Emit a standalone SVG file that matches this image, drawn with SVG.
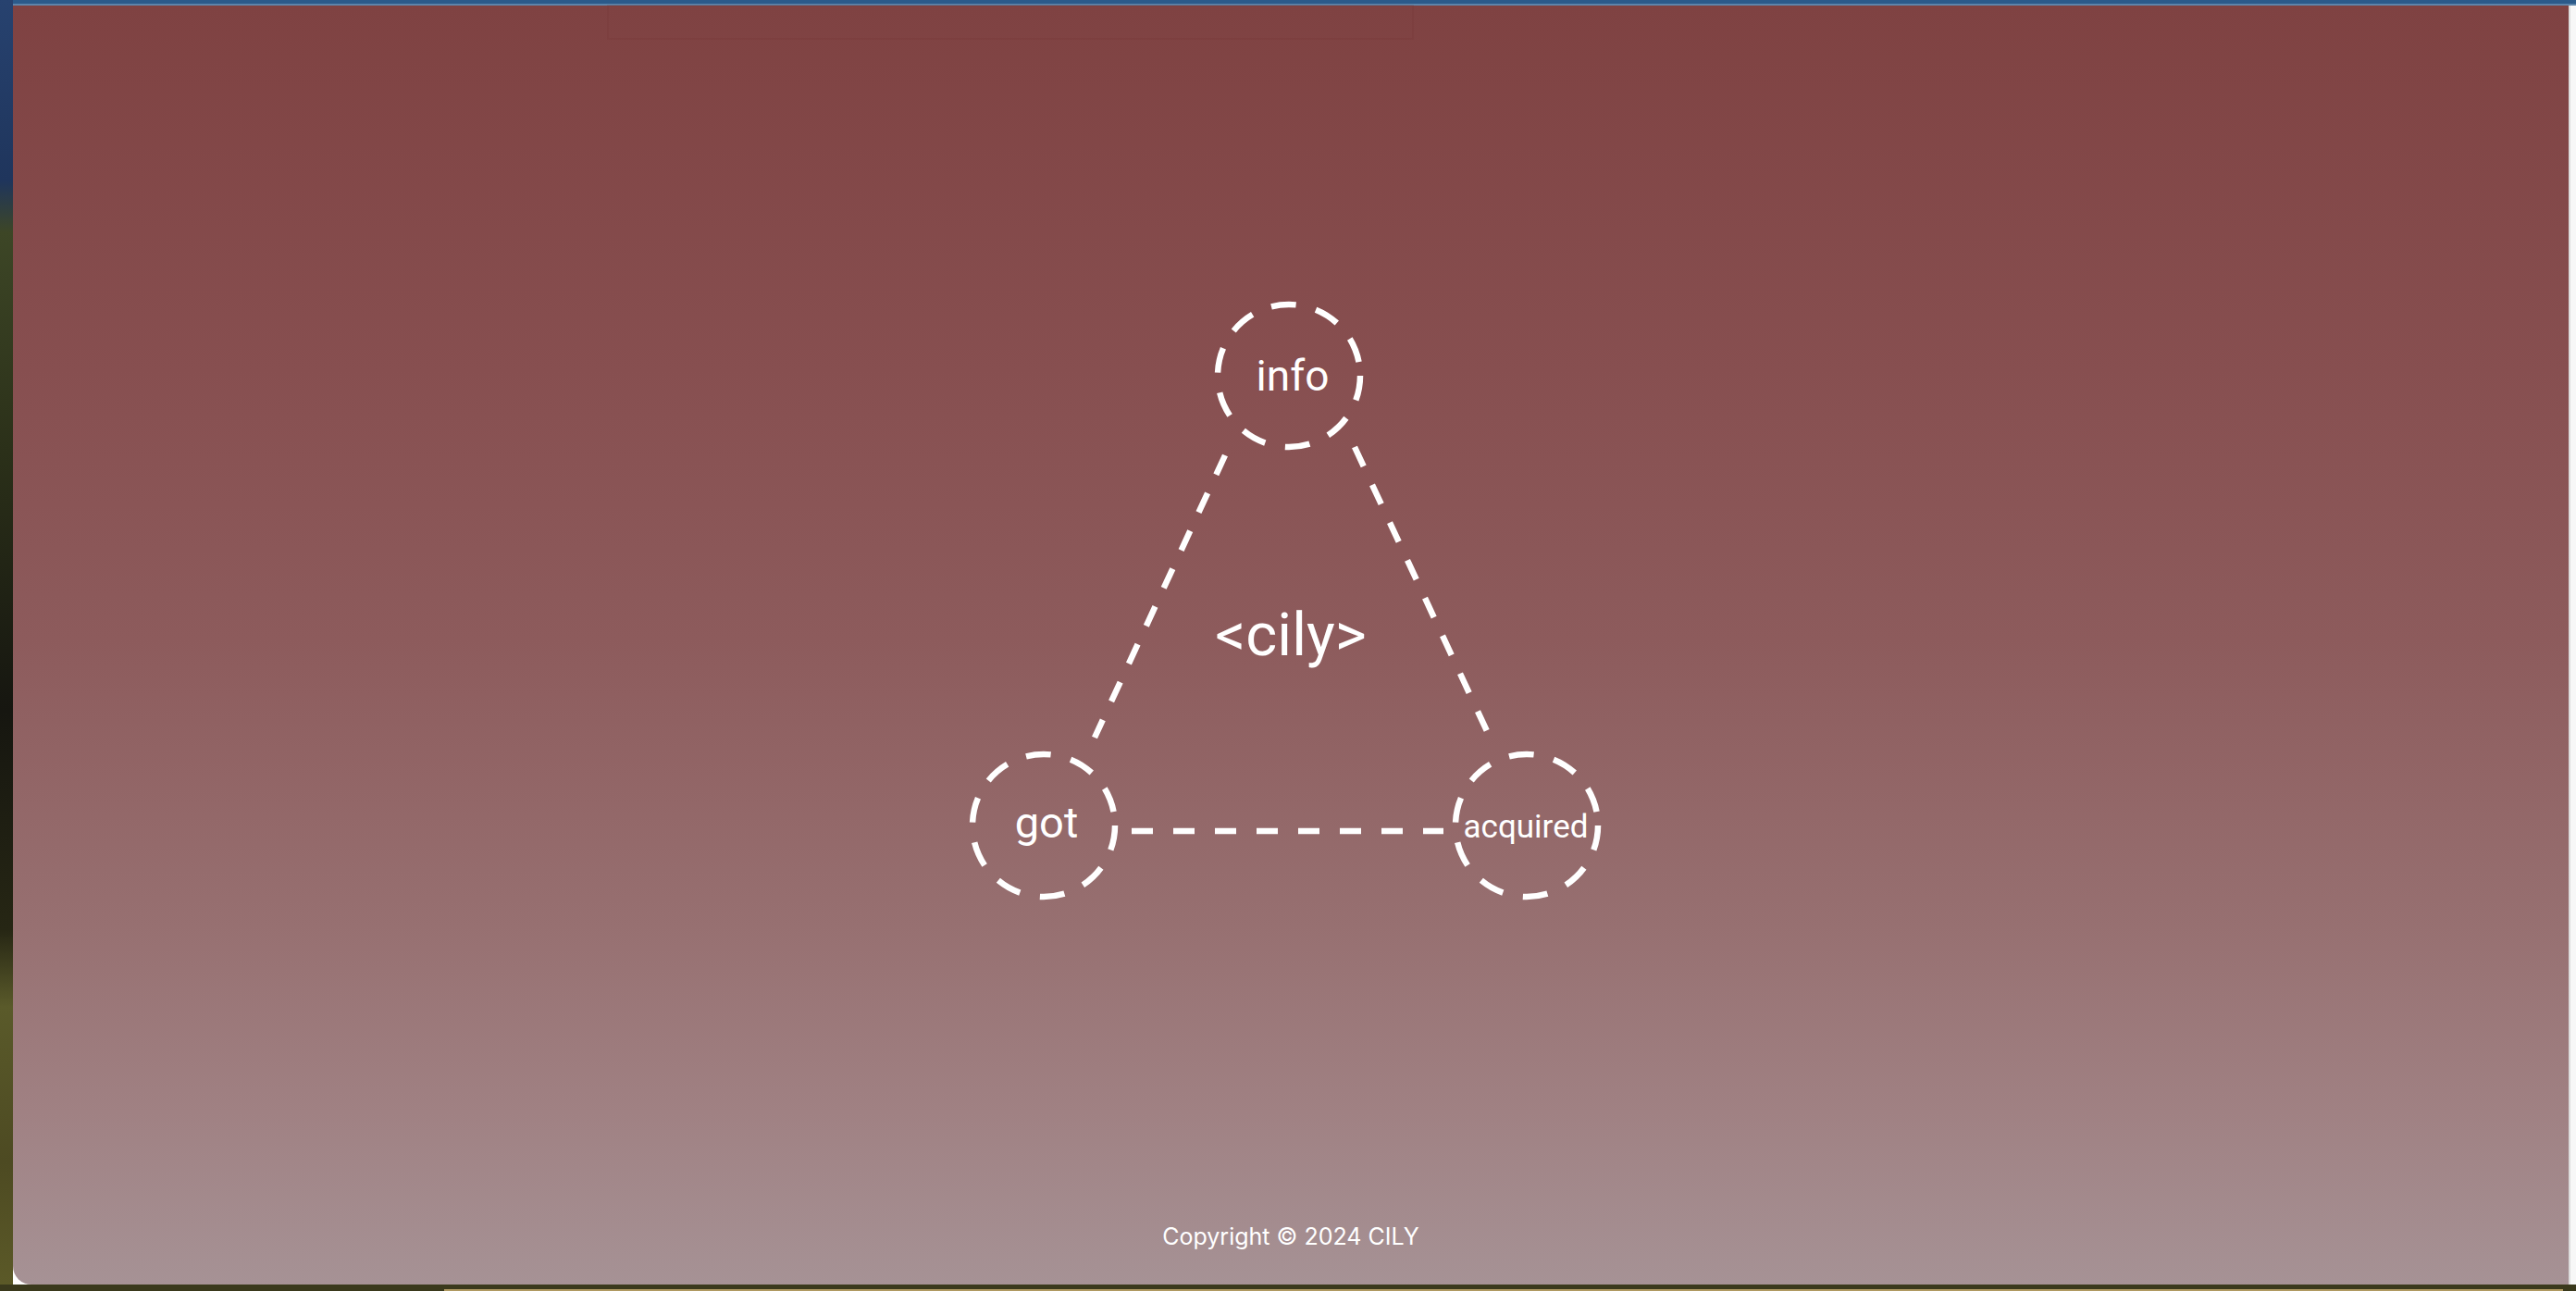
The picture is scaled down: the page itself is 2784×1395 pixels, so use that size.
<svg xmlns="http://www.w3.org/2000/svg" width="2784" height="1395" viewBox="0 0 2784 1395">
  <defs>
    <linearGradient id="panelBg" x1="0" y1="6" x2="0" y2="1388" gradientUnits="userSpaceOnUse">
      <stop offset="0" stop-color="#7f4242"/>
      <stop offset="0.285" stop-color="#874f50"/>
      <stop offset="0.495" stop-color="#8d5b5c"/>
      <stop offset="0.72" stop-color="#977071"/>
      <stop offset="0.865" stop-color="#a08183"/>
      <stop offset="1" stop-color="#a69295"/>
    </linearGradient>
    <linearGradient id="leftStrip" x1="0" y1="0" x2="0" y2="1395" gradientUnits="userSpaceOnUse">
      <stop offset="0" stop-color="#27426f"/>
      <stop offset="0.14" stop-color="#1f355c"/>
      <stop offset="0.18" stop-color="#3d4626"/>
      <stop offset="0.35" stop-color="#2b3019"/>
      <stop offset="0.55" stop-color="#161610"/>
      <stop offset="0.72" stop-color="#262614"/>
      <stop offset="0.78" stop-color="#5a5a2a"/>
      <stop offset="0.9" stop-color="#4d4a22"/>
      <stop offset="1" stop-color="#5c5a28"/>
    </linearGradient>
    <style>
      .ring { fill: none; stroke: #ffffff; stroke-width: 6.5; stroke-dasharray: 27 22; }
      .edge { fill: none; stroke: #ffffff; stroke-width: 6.5; stroke-dasharray: 23 22; }
      .lbl { fill: #ffffff; font-family: Roboto, "Liberation Sans", sans-serif; text-anchor: middle; }
      .foot { fill: #ffffff; font-family: Inter, "Liberation Sans", sans-serif; text-anchor: middle; font-size: 25px; }
    </style>
  </defs>

  <!-- surroundings -->
  <rect x="0" y="0" width="14" height="1395" fill="url(#leftStrip)"/>
  <rect x="0" y="1388" width="2784" height="7" fill="#3a391c"/>
  <rect x="480" y="1393" width="2290" height="2" fill="#b09a62"/>
  <rect x="2776" y="0" width="8" height="1388" fill="#f7f7f7"/>
  <rect x="2776" y="0" width="2" height="1388" fill="#dcdcdc"/>

  <!-- panel -->
  <path d="M14 6 H2776 V1388 H34 A20 20 0 0 1 14 1368 Z" fill="url(#panelBg)"/>
  <rect x="14" y="0" width="2770" height="4" fill="#2b5a8a"/>
  <rect x="14" y="4" width="2770" height="2" fill="#5d84aa"/>
  <rect x="657" y="6" width="870" height="36" fill="none" stroke="#6f3232" stroke-opacity="0.18" stroke-width="2"/>

  <!-- connectors -->
  <g id="connectors">
    <line class="edge" x1="1324" y1="492" x2="1183" y2="797"/>
    <line class="edge" x1="1464" y1="483" x2="1607" y2="790"/>
    <line class="edge" x1="1223" y1="898" x2="1560" y2="898"/>
  </g>

  <!-- nodes -->
  <g id="node-info">
    <circle class="ring" cx="1393" cy="406" r="77"/>
    <text class="lbl" x="1397" y="422" font-size="46">info</text>
  </g>
  <g id="node-got">
    <circle class="ring" cx="1128" cy="892" r="77"/>
    <text class="lbl" x="1131" y="905" font-size="47">got</text>
  </g>
  <g id="node-acquired">
    <circle class="ring" cx="1650" cy="892" r="77"/>
    <text class="lbl" x="1649" y="905" font-size="35">acquired</text>
  </g>
  <g id="node-cily">
    <text class="lbl" x="1395" y="708" font-size="65">&lt;cily&gt;</text>
  </g>

  <text class="foot" x="1395" y="1345">Copyright © 2024 CILY</text>
</svg>
